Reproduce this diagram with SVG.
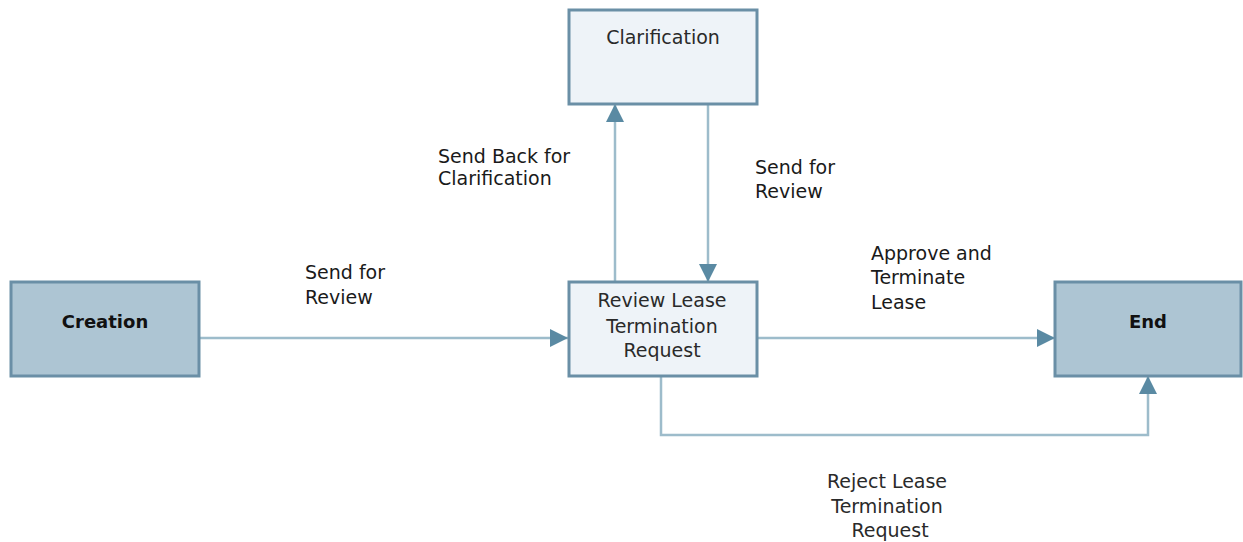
<svg xmlns="http://www.w3.org/2000/svg" width="1243" height="542" viewBox="0 0 1243 542">
<defs>
<style>
.dark{fill:#adc5d3;stroke:#6a8fa6;stroke-width:3}
.light{fill:#eef3f8;stroke:#6a8fa6;stroke-width:3}
.t{font-family:"DejaVu Sans",Verdana,sans-serif;font-size:19px;fill:#2a2a2a;text-anchor:middle}
.tb{font-family:"DejaVu Sans",Verdana,sans-serif;font-size:18px;font-weight:bold;fill:#111;text-anchor:middle}
.lbl{font-family:"DejaVu Sans",Verdana,sans-serif;font-size:19px;fill:#1a1a1a}
.c{fill:none;stroke:#9dbccb;stroke-width:2.5}
</style>
<marker id="ah" viewBox="0 0 18 18" refX="18" refY="9" markerWidth="18" markerHeight="18" markerUnits="userSpaceOnUse" orient="auto">
<path d="M0,0 L18,9 L0,18 Z" fill="#5a8aa3"/>
</marker>
</defs>
<rect width="1243" height="542" fill="#ffffff"/>
<g id="connectors">
<path class="c" d="M199,338 H568" marker-end="url(#ah)"/>
<path class="c" d="M615,282 V104" marker-end="url(#ah)"/>
<path class="c" d="M708,104 V282" marker-end="url(#ah)"/>
<path class="c" d="M757,338 H1055" marker-end="url(#ah)"/>
<path class="c" d="M661,376 V435 H1148 V376" marker-end="url(#ah)"/>
</g>
<g id="labels">
<text class="lbl" x="305" y="279">Send for</text>
<text class="lbl" x="305" y="304">Review</text>
<text class="lbl" x="438" y="163">Send Back for</text>
<text class="lbl" x="438" y="185">Clarification</text>
<text class="lbl" x="755" y="174">Send for</text>
<text class="lbl" x="755" y="198">Review</text>
<text class="lbl" x="871" y="260">Approve and</text>
<text class="lbl" x="871" y="284">Terminate</text>
<text class="lbl" x="871" y="309">Lease</text>
<text class="t" x="887" y="488">Reject Lease</text>
<text class="t" x="887" y="513">Termination</text>
<text class="t" x="890" y="537">Request</text>
</g>
<g id="node-creation">
<rect class="dark" x="11" y="282" width="188" height="94"/>
<text class="tb" x="105" y="328">Creation</text>
</g>
<g id="node-clarification">
<rect class="light" x="569" y="10" width="188" height="94"/>
<text class="t" x="663" y="44">Clarification</text>
</g>
<g id="node-review">
<rect class="light" x="569" y="282" width="188" height="94"/>
<text class="t" x="662" y="307">Review Lease</text>
<text class="t" x="662" y="333">Termination</text>
<text class="t" x="662" y="357">Request</text>
</g>
<g id="node-end">
<rect class="dark" x="1055" y="282" width="186" height="94"/>
<text class="tb" x="1148" y="328">End</text>
</g>
</svg>
